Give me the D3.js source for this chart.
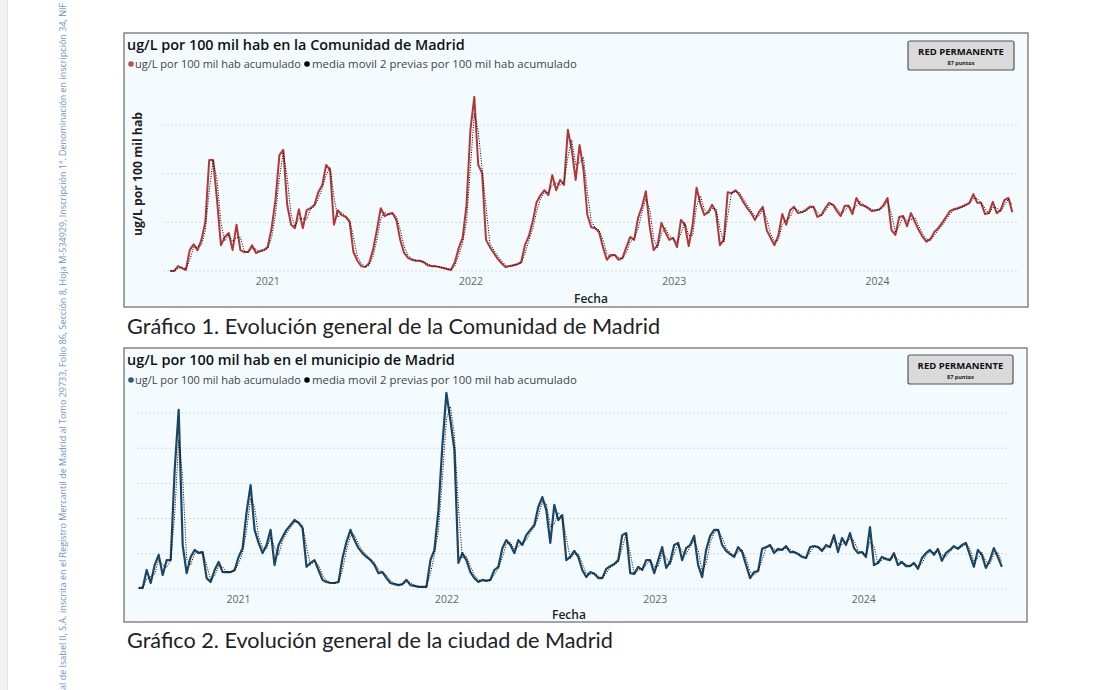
<!DOCTYPE html>
<html><head><meta charset="utf-8">
<script src="https://cdn.jsdelivr.net/npm/d3@7"></script>
<style>body{margin:0;background:#fff;} svg{display:block}</style>
</head><body><svg id="c" width="1119" height="690"></svg>
<script>
// ---------- data ----------
const startDate = "2020-07-11";   // first sample
const stepDays = 7;               // weekly samples
const yearTicks = ["2021-01-01","2022-01-01","2023-01-01","2024-01-01"];
const gridComunidad = [0,100,200,300];
const gridMunicipio = [0,100,200,300,400,500];

// ug/L por 100 mil hab acumulado - Comunidad de Madrid (weekly)
const comunidad = [0,0,10,6,2,43,55,43,64,101,228,228,146,53,70,78,43,95,43,39,
39,53,37,41,43,49,88,146,238,249,136,95,88,127,88,125,129,136,162,177,
218,208,95,125,115,111,101,39,21,10,8,16,43,84,129,113,117,119,105,64,
37,27,23,21,21,18,12,10,10,8,6,4,2,18,47,68,136,290,358,218,
201,64,49,37,25,16,8,10,12,14,18,53,72,103,142,156,166,156,197,166,
187,177,290,249,187,259,208,115,90,88,80,49,23,33,33,23,27,49,70,64,
109,132,164,90,43,53,99,80,64,68,49,105,95,51,95,171,138,115,121,136,
121,53,64,162,160,166,156,142,129,119,105,121,132,84,68,53,74,117,95,125,
132,119,121,125,132,132,111,115,129,140,136,123,113,134,134,117,150,136,134,129,
123,125,127,136,150,84,74,111,113,92,119,101,84,70,60,66,80,88,99,111,
123,127,129,132,136,140,158,140,140,117,119,142,119,125,146,150,121];

// ug/L por 100 mil hab acumulado - municipio de Madrid (weekly)
const municipio = [3,3,54,17,68,97,40,82,82,338,509,125,45,91,111,102,105,31,20,54,
77,48,48,48,54,91,116,219,295,168,131,102,125,168,68,125,148,168,182,196,
188,173,63,74,82,54,26,20,17,17,20,88,134,168,139,116,102,91,82,68,
45,48,31,17,14,11,14,26,11,9,6,6,6,82,111,224,409,557,480,395,
74,102,82,48,31,20,26,23,26,54,63,116,139,125,102,139,125,153,168,182,
233,261,224,131,239,196,210,82,91,108,91,54,34,48,43,31,31,57,65,71,
82,153,159,45,43,63,54,82,82,45,82,119,60,77,125,131,82,116,125,151,
68,34,111,151,168,168,125,108,99,91,119,105,68,31,48,51,114,119,125,102,
114,111,122,105,105,99,91,88,119,122,119,108,125,119,153,105,145,125,159,116,
102,105,91,176,68,74,91,85,82,102,68,77,65,65,74,57,88,102,111,97,
114,80,102,111,122,114,125,131,97,63,111,97,60,82,116,91,63];

// ---------- helpers ----------
const parse = d3.timeParse("%Y-%m-%d");
const t0 = parse(startDate);
function series(vals){
  return vals.map((v,i)=>({date:d3.timeDay.offset(t0, i*stepDays), v}));
}
// media movil de las 2 ultimas muestras
function movingAvg(vals){
  return vals.map((v,i)=>({date:d3.timeDay.offset(t0, i*stepDays), v: i>0 ? (v+vals[i-1])/2 : v}));
}
function fit(sel, target){
  const n = sel.node();
  const fs = parseFloat(sel.attr("font-size"));
  const w = n.getComputedTextLength();
  if (w>0) sel.attr("font-size", (fs*target/w).toFixed(2));
  return sel;
}

const svg = d3.select("#c");
svg.append("rect").attr("x",0).attr("y",0).attr("width",1119).attr("height",690).attr("fill","#ffffff");
svg.append("rect").attr("x",0).attr("y",0).attr("width",7).attr("height",690).attr("fill","#f1f1f1");
svg.append("line").attr("x1",7.5).attr("x2",7.5).attr("y1",0).attr("y2",690).attr("stroke","#e2e2e2");

// vertical watermark
const wm = svg.append("text")
  .attr("transform","translate(66,690) rotate(-90)")
  .attr("font-family","Open Sans, sans-serif").attr("font-size",8)
  .attr("fill","#6f93c4")
  .text("al de Isabel II, S.A. inscrita en el Registro Mercantil de Madrid al Tomo 29733, Folio 86, Sección 8, Hoja M-534929, Inscripción 1ª. Denominación en inscripción 34, NIF");
fit(wm, 688);

const panels = [
  {box:[124,33,1028,307], title:"ug/L por 100 mil hab en la Comunidad de Madrid", titleW:338,
   titleY:50, legendY:68, color:"#b53636", dot:"#c0504d", values:comunidad,
   xRange:[163,1019], xDomain:["2020-06-28","2024-09-12"],
   yRange:[271,125], yDomain:[0,300], grid:gridComunidad, yTitle:true,
   badge:[908,41,106,29], tickY:286, fechaX:591, fechaY:303,
   caption:"Gráfico 1. Evolución general de la Comunidad de Madrid", capY:334, capW:533, lw:2},
  {box:[124,348,1027,622], title:"ug/L por 100 mil hab en el municipio de Madrid", titleW:328,
   titleY:365, legendY:384, color:"#1c4666", dot:"#2d5a7b", values:municipio,
   xRange:[137,1007], xDomain:["2020-07-08","2024-09-09"],
   yRange:[589,413], yDomain:[0,500], grid:gridMunicipio, yTitle:false,
   badge:[908,355,105,29], tickY:604, fechaX:569, fechaY:619,
   caption:"Gráfico 2. Evolución general de la ciudad de Madrid", capY:648, capW:486, lw:2.2}
];

panels.forEach(p=>{
  const [x0,y0,x1,y1] = p.box;
  const g = svg.append("g");
  g.append("rect").attr("x",x0).attr("y",y0).attr("width",x1-x0).attr("height",y1-y0)
    .attr("fill","#f3fbfe").attr("stroke","#858585").attr("stroke-width",1.5);

  const x = d3.scaleTime().domain(p.xDomain.map(parse)).range(p.xRange);
  const y = d3.scaleLinear().domain(p.yDomain).range(p.yRange);

  // grid
  g.selectAll(".grid").data(p.grid).join("line")
    .attr("x1",p.xRange[0]).attr("x2",p.xRange[1])
    .attr("y1",d=>y(d)).attr("y2",d=>y(d))
    .attr("stroke","#d5dbdf").attr("stroke-width",1).attr("stroke-dasharray","2,2");

  // x axis
  const ax = g.append("g").attr("transform",`translate(0,${p.tickY-11})`)
    .call(d3.axisBottom(x).tickValues(yearTicks.map(parse)).tickFormat(d3.timeFormat("%Y")).tickSize(0));
  ax.select(".domain").remove();
  ax.selectAll("text").attr("font-family","Open Sans, sans-serif").attr("font-size",10.5)
    .attr("fill","#666").attr("dy","0.71em");

  g.append("text").attr("x",p.fechaX).attr("y",p.fechaY).attr("text-anchor","middle")
    .attr("font-family","Open Sans, sans-serif").attr("font-weight",600).attr("font-size",12)
    .attr("fill","#222").text("Fecha");

  if (p.yTitle){
    const yt = g.append("text").attr("transform","translate(142,174) rotate(-90)")
      .attr("text-anchor","middle").attr("font-family","Open Sans, sans-serif")
      .attr("font-weight",700).attr("font-size",12).attr("fill","#222")
      .text("ug/L por 100 mil hab");
    fit(yt,124);
  }

  // lines
  const line = d3.line().x(d=>x(d.date)).y(d=>y(d.v));
  g.append("path").datum(series(p.values)).attr("d",line)
    .attr("fill","none").attr("stroke",p.color).attr("stroke-width",p.lw).attr("stroke-linejoin","round");
  g.append("path").datum(movingAvg(p.values)).attr("d",line)
    .attr("fill","none").attr("stroke","#000").attr("stroke-width",1).attr("stroke-dasharray","1,1.5");

  // title
  const tt = g.append("text").attr("x",127).attr("y",p.titleY)
    .attr("font-family","Open Sans, sans-serif").attr("font-weight",600).attr("font-size",14)
    .attr("fill","#111").text(p.title);
  fit(tt,p.titleW);

  // legend
  const ly = p.legendY;
  g.append("circle").attr("cx",131).attr("cy",ly-4).attr("r",2.8).attr("fill",p.dot);
  const l1 = g.append("text").attr("x",135).attr("y",ly).attr("font-family","Open Sans, sans-serif")
    .attr("font-size",11).attr("fill","#444").text("ug/L por 100 mil hab acumulado");
  fit(l1,166);
  g.append("circle").attr("cx",307).attr("cy",ly-4).attr("r",2.8).attr("fill","#000");
  const l2 = g.append("text").attr("x",312).attr("y",ly).attr("font-family","Open Sans, sans-serif")
    .attr("font-size",11).attr("fill","#444").text("media movil 2 previas por 100 mil hab acumulado");
  fit(l2,265);

  // badge
  const [bx,by,bw,bh] = p.badge;
  g.append("rect").attr("x",bx).attr("y",by).attr("width",bw).attr("height",bh).attr("rx",2)
    .attr("fill","#dadada").attr("stroke","#555").attr("stroke-width",1.2);
  g.append("text").attr("x",bx+bw/2).attr("y",by+14).attr("text-anchor","middle")
    .attr("font-family","Open Sans, sans-serif").attr("font-weight",700).attr("font-size",9.5)
    .attr("fill","#111").text("RED PERMANENTE");
  g.append("text").attr("x",bx+bw/2).attr("y",by+24).attr("text-anchor","middle")
    .attr("font-family","Open Sans, sans-serif").attr("font-weight",700).attr("font-size",5.5)
    .attr("fill","#222").text("87 puntos");

  // caption
  const cp = svg.append("text").attr("x",127).attr("y",p.capY)
    .attr("font-family","Lato, sans-serif").attr("font-size",20).attr("fill","#222").text(p.caption);
  fit(cp,p.capW);
});
</script></body></html>
